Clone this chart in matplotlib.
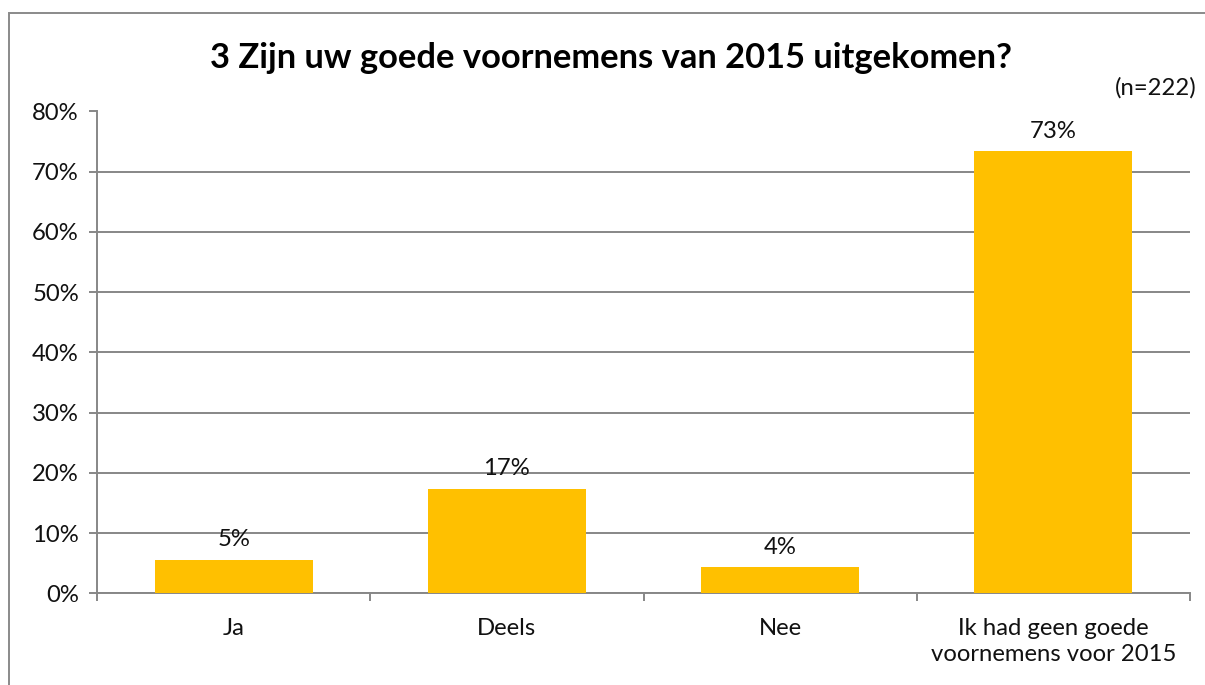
import matplotlib
matplotlib.use("Agg")
import matplotlib.pyplot as plt
from matplotlib.lines import Line2D
from matplotlib.ticker import FixedLocator

categories = ["Ja", "Deels", "Nee", "Ik had geen goede\nvoornemens voor 2015"]
values = [5.5, 17.3, 4.3, 73.4]
value_labels = ["5%", "17%", "4%", "73%"]
y_ticks = [0, 10, 20, 30, 40, 50, 60, 70, 80]
y_tick_labels = ["0%", "10%", "20%", "30%", "40%", "50%", "60%", "70%", "80%"]
title = "3 Zijn uw goede voornemens van 2015 uitgekomen?"
note = "(n=222)"

W, H = 1205, 685
plt.rcParams['font.family'] = ['Lato', 'DejaVu Sans']
fig = plt.figure(figsize=(W / 100, H / 100), dpi=100)

left, right, top, bottom = 97, 1190, 111.5, 593.3
ax = fig.add_axes([left / W, 1 - bottom / H, (right - left) / W, (bottom - top) / H])

fs = 17.2
grid_c = "#878787"
x = list(range(len(categories)))
ax.bar(x, values, width=0.578, color="#FFC000", zorder=3)
for xi, v, lab in zip(x, values, value_labels):
    ax.annotate(lab, (xi, v), xytext=(0, 7), textcoords="offset points",
                ha="center", va="bottom", fontsize=fs, color="#111111")

ax.set_xlim(-0.5, len(categories) - 0.5)
ax.set_ylim(0, 80)
ax.set_yticks(y_ticks)
ax.set_yticklabels(y_tick_labels, fontsize=fs, color="#111111")
ax.set_xticks(x)
ax.set_xticklabels(categories, fontsize=fs, color="#111111", linespacing=1.3)
ax.xaxis.set_minor_locator(FixedLocator([i - 0.5 for i in range(len(categories) + 1)]))
ax.tick_params(axis="x", which="major", length=0, pad=18)
ax.tick_params(axis="x", which="minor", length=6, width=1.4, color=grid_c, direction="out")
ax.tick_params(axis="y", which="major", length=6, width=1.4, color=grid_c, pad=7)

for s in ["top", "right"]:
    ax.spines[s].set_visible(False)
for s in ["left", "bottom"]:
    ax.spines[s].set_color(grid_c)
    ax.spines[s].set_linewidth(1.4)
ax.yaxis.grid(True, color=grid_c, linewidth=1.4, zorder=0)
ax.set_axisbelow(True)

fig.text(611 / W, 1 - 58 / H, title, ha="center", va="center",
         fontsize=24.8, fontweight="bold", color="#000000")
fig.text(1197 / W, 1 - 88 / H, note, ha="right", va="center",
         fontsize=fs, color="#111111")

# outer frame (left and top edges visible)
fig.add_artist(Line2D([9 / W, 9 / W, 1.0], [0, 1 - 13 / H, 1 - 13 / H],
                      transform=fig.transFigure, color="#8a8a8a", linewidth=1.4,
                      solid_capstyle="butt", solid_joinstyle="miter"))

fig.savefig("out.png", dpi=100)
